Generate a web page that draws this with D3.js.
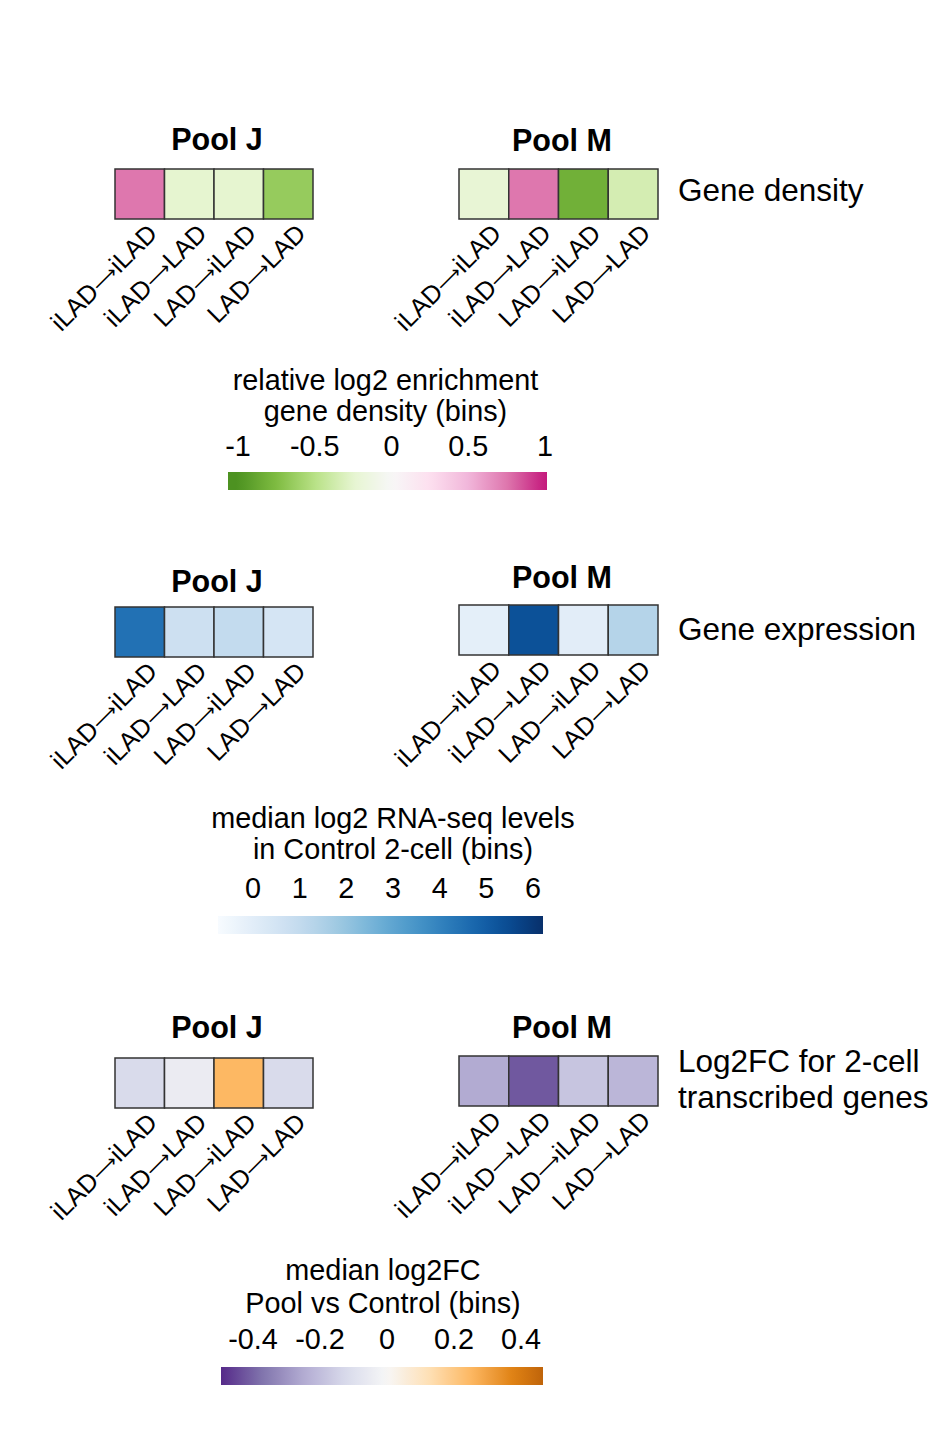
<!DOCTYPE html>
<html><head><meta charset="utf-8">
<script src="https://cdn.jsdelivr.net/npm/d3@7"></script>
<style>body{margin:0;background:#fff}svg{display:block;font-family:"Liberation Sans",Arial,sans-serif}</style>
</head><body><svg id="c" width="931" height="1430"></svg>
<script>
const categories = ["iLAD\u2192iLAD","iLAD\u2192LAD","LAD\u2192iLAD","LAD\u2192LAD"];
const pools = ["Pool J","Pool M"];
const densityJ = [0.75,-0.25,-0.25,-0.65];
const densityM = [-0.22,0.75,-0.82,-0.35];
const expressionJ = [4.46,0.71,0.99,0.43];
const expressionM = [-0.1,5.33,0.0,1.34];
const log2fcJ = [-0.12,-0.05,0.25,-0.12];
const log2fcM = [-0.25,-0.42,-0.18,-0.22];
const densityTicks = [-1,-0.5,0,0.5,1];
const expressionTicks = [0,1,2,3,4,5,6];
const log2fcTicks = [-0.4,-0.2,0,0.2,0.4];
const rowLabels = [["Gene density"],["Gene expression"],["Log2FC for 2-cell","transcribed genes"]];
const legendTitles = [["relative log2 enrichment","gene density (bins)"],["median log2 RNA-seq levels","in Control 2-cell (bins)"],["median log2FC","Pool vs Control (bins)"]];

const piyg = ["#4d9221","#7fbc41","#b8e186","#e6f5d0","#f7f7f7","#fde0ef","#f1b6da","#de77ae","#c51b7d"];
const puor = ["#542788","#8073ac","#b2abd2","#d8daeb","#f7f7f7","#fee0b6","#fdb863","#e08214","#b35806"];

const densityColor = d3.scaleLinear().domain(d3.range(9).map(i=>-1+i*0.25)).range(piyg).clamp(true);
const exprColor = d3.scaleSequential(d3.interpolateBlues).domain([-0.75,6.2]);
const fcColor = d3.scaleLinear().domain(d3.range(9).map(i=>-0.5+i*0.125)).range(puor).clamp(true);

const svg = d3.select("#c");
const defs = svg.append("defs");

const panels = [
  {data:[densityJ,densityM], color:densityColor, heatY:[169,169], titleY:[150,151], rowLabelY:201,
   ticks:densityTicks, tickRange:[238,545], domain:[-1,1], barX:[228,547], barY:472, tickY:456, titleLY:[390,421], titleCX:385.5},
  {data:[expressionJ,expressionM], color:exprColor, heatY:[607,605], titleY:[592,588], rowLabelY:640,
   ticks:expressionTicks, tickRange:[253,533], domain:[0,6], barX:[218,543], barY:916, tickY:898, titleLY:[828,859], titleCX:393},
  {data:[log2fcJ,log2fcM], color:fcColor, heatY:[1058,1056], titleY:[1038,1038], rowLabelY:1072,
   ticks:log2fcTicks, tickRange:[253,521], domain:[-0.4,0.4], barX:[221,543], barY:1367, tickY:1349, titleLY:[1280,1313], titleCX:383}
];
const poolX = [[115,313],[459,658]];
const titleCX = [217,562];
const cellH = 50;

panels.forEach((p,pi)=>{
  const g = svg.append("g");
  pools.forEach((pool,k)=>{
    const x = d3.scaleBand().domain(categories).range(poolX[k]);
    const y0 = p.heatY[k];
    g.append("text").attr("x",titleCX[k]).attr("y",p.titleY[k])
      .attr("text-anchor","middle").attr("font-weight","bold").attr("font-size",30.5).text(pool);
    g.selectAll(null).data(p.data[k]).join("rect")
      .attr("x",(d,i)=>x(categories[i])).attr("y",y0).attr("width",x.bandwidth()).attr("height",cellH)
      .attr("fill",d=>p.color(d)).attr("stroke","#333").attr("stroke-width",1.5);
    const lab = g.selectAll(null).data(categories).join("text")
      .attr("transform",d=>`translate(${x(d)+x.bandwidth()/2+19},${y0+cellH+16}) rotate(-45)`)
      .attr("text-anchor","end").attr("font-size",25.5);
    lab.each(function(d){
      const parts = d.split("\u2192");
      const t = d3.select(this);
      t.append("tspan").text(parts[0]);
      t.append("tspan").attr("font-family","DejaVu Sans").attr("font-size",19).attr("dy",-1).text("\u27F6");
      t.append("tspan").attr("dy",1).text(parts[1]);
    });
  });
  const rl = g.append("text").attr("x",678).attr("y",p.rowLabelY).attr("font-size",31.5);
  rowLabels[pi].forEach((t,i)=>rl.append("tspan").attr("x",678).attr("dy",i?36:0).text(t));
  legendTitles[pi].forEach((t,i)=>g.append("text").attr("x",p.titleCX).attr("y",p.titleLY[i])
    .attr("text-anchor","middle").attr("font-size",28.8).text(t));
  const s = d3.scaleLinear().domain(p.domain).range(p.tickRange);
  g.selectAll(null).data(p.ticks).join("text").attr("x",d=>s(d)).attr("y",p.tickY)
    .attr("text-anchor","middle").attr("font-size",28.8).text(d=>String(d));
  const gid = "grad"+pi;
  const grad = defs.append("linearGradient").attr("id",gid).attr("x1","0%").attr("x2","100%");
  const n=40;
  d3.range(n+1).forEach(i=>{
    const px = p.barX[0]+(p.barX[1]-p.barX[0])*i/n;
    grad.append("stop").attr("offset",(i/n*100)+"%").attr("stop-color",p.color(s.invert(px)));
  });
  g.append("rect").attr("x",p.barX[0]).attr("y",p.barY).attr("width",p.barX[1]-p.barX[0]).attr("height",18)
    .attr("fill",`url(#${gid})`);
});
</script></body></html>
